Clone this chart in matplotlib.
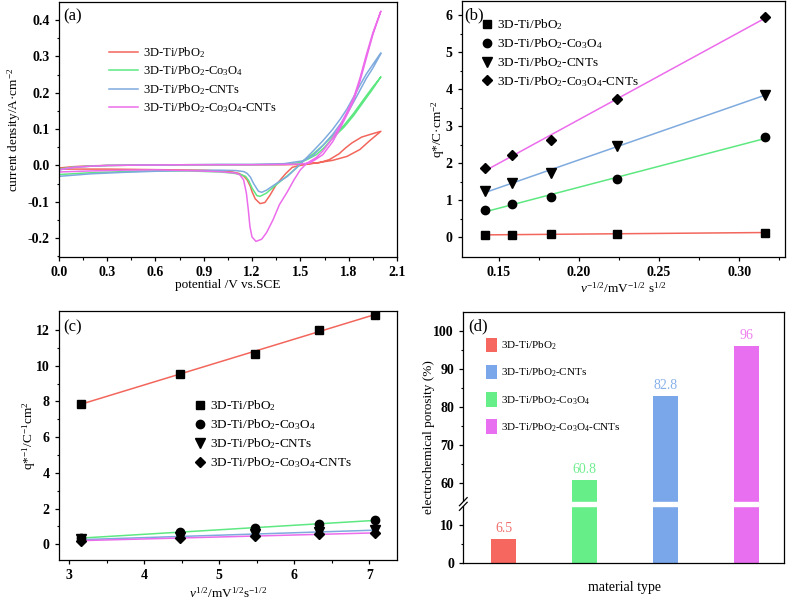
import numpy as np
import matplotlib
matplotlib.use("Agg")
import matplotlib.pyplot as plt
from matplotlib.patches import Patch, Rectangle

plt.rcParams['font.family'] = ['Liberation Serif', 'DejaVu Serif']
plt.rcParams['mathtext.fontset'] = 'custom'
plt.rcParams['mathtext.rm'] = 'Liberation Serif'
plt.rcParams['mathtext.it'] = 'Liberation Serif:italic'
plt.rcParams['mathtext.bf'] = 'Liberation Serif:bold'

# ---------------- data ----------------
labels = ['3D-Ti/PbO$_2$', '3D-Ti/PbO$_2$-Co$_3$O$_4$', '3D-Ti/PbO$_2$-CNTs',
          '3D-Ti/PbO$_2$-Co$_3$O$_4$-CNTs']
colors = ['#f2665c', '#5ee882', '#7eaade', '#ec6cec']

# (a) cyclic voltammograms: anodic sweep then cathodic sweep
red_V_an = [0.00, 0.05, 0.10, 0.20, 0.30, 0.50, 0.80, 1.00, 1.20, 1.40, 1.50, 1.60, 1.70, 1.79, 1.87, 1.93, 2.00]
red_I_an = [-0.007, -0.005, -0.003, -0.001, 0.000, 0.001, 0.002, 0.002, 0.002, 0.002, 0.003, 0.007, 0.014, 0.025, 0.044, 0.068, 0.094]
red_V_ca = [2.00, 1.93, 1.88, 1.82, 1.78, 1.74, 1.68, 1.62, 1.55, 1.50, 1.45, 1.41, 1.35, 1.31, 1.28, 1.25, 1.22, 1.20, 1.19, 1.17, 1.15, 1.12, 1.08, 1.00, 0.90, 0.70, 0.50, 0.30, 0.10, 0.00]
red_I_ca = [0.094, 0.085, 0.078, 0.062, 0.048, 0.032, 0.016, 0.008, 0.004, 0.000, -0.005, -0.022, -0.053, -0.083, -0.102, -0.105, -0.092, -0.072, -0.058, -0.040, -0.030, -0.022, -0.018, -0.015, -0.013, -0.012, -0.011, -0.010, -0.010, -0.010]

green_V_an = [0.00, 0.05, 0.10, 0.20, 0.30, 0.50, 0.80, 1.00, 1.20, 1.40, 1.50, 1.55, 1.60, 1.65, 1.70, 1.77, 1.83, 1.89, 1.95, 2.00]
green_I_an = [-0.010, -0.007, -0.004, -0.002, 0.000, 0.001, 0.002, 0.002, 0.002, 0.003, 0.008, 0.018, 0.030, 0.050, 0.075, 0.105, 0.137, 0.174, 0.211, 0.244]
green_V_ca = [2.00, 1.95, 1.89, 1.83, 1.77, 1.70, 1.64, 1.58, 1.52, 1.48, 1.42, 1.35, 1.29, 1.25, 1.23, 1.20, 1.18, 1.16, 1.13, 1.08, 1.00, 0.80, 0.60, 0.40, 0.20, 0.00]
green_I_ca = [0.244, 0.216, 0.180, 0.143, 0.110, 0.082, 0.055, 0.032, 0.014, -0.005, -0.028, -0.053, -0.076, -0.085, -0.083, -0.062, -0.042, -0.030, -0.025, -0.021, -0.018, -0.015, -0.015, -0.017, -0.020, -0.025]

blue_V_an = [0.00, 0.05, 0.10, 0.20, 0.30, 0.50, 0.80, 1.00, 1.20, 1.40, 1.46, 1.52, 1.58, 1.64, 1.70, 1.75, 1.79, 1.83, 1.87, 1.91, 1.95, 2.00]
blue_I_an = [-0.013, -0.008, -0.005, -0.002, 0.000, 0.001, 0.002, 0.003, 0.003, 0.005, 0.009, 0.013, 0.028, 0.055, 0.085, 0.115, 0.142, 0.174, 0.207, 0.240, 0.268, 0.308]
blue_V_ca = [2.00, 1.95, 1.91, 1.87, 1.83, 1.79, 1.75, 1.70, 1.64, 1.58, 1.54, 1.50, 1.48, 1.42, 1.35, 1.29, 1.26, 1.24, 1.21, 1.19, 1.17, 1.15, 1.10, 1.00, 0.80, 0.60, 0.40, 0.20, 0.00]
blue_I_ca = [0.310, 0.278, 0.252, 0.221, 0.188, 0.156, 0.129, 0.099, 0.068, 0.040, 0.022, 0.004, -0.005, -0.030, -0.050, -0.068, -0.074, -0.071, -0.050, -0.032, -0.022, -0.017, -0.014, -0.013, -0.014, -0.016, -0.019, -0.023, -0.030]

mag_V_an = [0.00, 0.05, 0.10, 0.20, 0.30, 0.50, 0.80, 1.00, 1.20, 1.40, 1.50, 1.56, 1.60, 1.64, 1.70, 1.75, 1.79, 1.83, 1.87, 1.91, 1.95, 2.00]
mag_I_an = [-0.012, -0.008, -0.005, -0.002, 0.000, 0.001, 0.002, 0.002, 0.002, 0.003, 0.004, 0.007, 0.018, 0.030, 0.065, 0.105, 0.140, 0.178, 0.232, 0.296, 0.360, 0.425]
mag_V_ca = [2.00, 1.95, 1.91, 1.87, 1.83, 1.79, 1.75, 1.70, 1.64, 1.60, 1.54, 1.50, 1.46, 1.42, 1.37, 1.33, 1.29, 1.26, 1.225, 1.20, 1.187, 1.177, 1.165, 1.148, 1.125, 1.10, 1.00, 0.80, 0.60, 0.40, 0.20, 0.00]
mag_I_ca = [0.425, 0.365, 0.305, 0.240, 0.185, 0.148, 0.112, 0.075, 0.040, 0.022, 0.006, -0.012, -0.040, -0.072, -0.108, -0.150, -0.185, -0.203, -0.209, -0.197, -0.168, -0.122, -0.076, -0.040, -0.026, -0.021, -0.017, -0.014, -0.012, -0.013, -0.015, -0.018]

# (b) q* vs v^-1/2
xb = [0.1414, 0.1581, 0.1826, 0.2236, 0.3162]
qb_pbo2 = [0.07, 0.07, 0.08, 0.10, 0.13]
qb_co = [0.73, 0.90, 1.10, 1.58, 2.70]
qb_cnt = [1.25, 1.48, 1.73, 2.47, 3.85]
qb_cocnt = [1.87, 2.22, 2.63, 3.73, 5.95]

# (c) 1/q* vs v^1/2
xc = [3.162, 4.472, 5.477, 6.325, 7.071]
qc_pbo2 = [7.87, 9.55, 10.67, 12.00, 12.85]
qc_co = [0.37, 0.66, 0.92, 1.12, 1.37]
qc_cnt = [0.27, 0.42, 0.58, 0.68, 0.80]
qc_cocnt = [0.20, 0.36, 0.46, 0.55, 0.64]

# (d) electrochemical porosity
por_values = [6.5, 60.8, 82.8, 96]
por_labels = ['6.5', '60.8', '82.8', '96']

# ---------------- figure ----------------
fig = plt.figure(figsize=(7.91, 6.04), dpi=100)
W, H = 791.0, 604.0
def axes_px(l, t, r, b):
    return fig.add_axes([l / W, (H - b) / H, (r - l) / W, (b - t) / H])

TICKFS = 10
def style(ax):
    for s in ax.spines.values():
        s.set_linewidth(0.9)
    ax.tick_params(which='both', direction='out', top=False, right=False)
    ax.tick_params(which='major', length=3.2, width=0.9, labelsize=TICKFS)
    ax.tick_params(which='minor', length=1.8, width=0.8)
    for lab in ax.get_xticklabels() + ax.get_yticklabels():
        lab.set_fontweight('bold')

# ---- (a)
axa = axes_px(58.7, 2, 397, 257)
cv = [(red_V_an + red_V_ca, red_I_an + red_I_ca),
      (green_V_an + green_V_ca, green_I_an + green_I_ca),
      (blue_V_an + blue_V_ca, blue_I_an + blue_I_ca),
      (mag_V_an + mag_V_ca, mag_I_an + mag_I_ca)]
for (V, I), c, lab in zip(cv, colors, labels):
    axa.plot(V, I, color=c, lw=1.1, label=lab)
axa.set_xlim(0, 2.1)
axa.set_ylim(-0.252, 0.45)
axa.set_xticks(np.arange(0, 2.11, 0.3))
axa.set_xticks(np.arange(0.15, 2.1, 0.3), minor=True)
axa.set_xticklabels(['0.0', '0.3', '0.6', '0.9', '1.2', '1.5', '1.8', '2.1'])
axa.set_yticks([-0.2, -0.1, 0.0, 0.1, 0.2, 0.3, 0.4])
axa.set_yticks(np.arange(-0.25, 0.45, 0.1), minor=True)
axa.set_yticklabels(['-0.2', '-0.1', '0.0', '0.1', '0.2', '0.3', '0.4'])
style(axa)
axa.set_xlabel('potential /V vs.SCE', fontsize=9.5)
axa.xaxis.set_label_coords(0.5, -0.088)
axa.set_ylabel('current density/A·cm$^{-2}$', fontsize=9.5)
axa.yaxis.set_label_coords(-0.105, 0.5)
axa.text(0.013, 0.945, '(a)', transform=axa.transAxes, fontsize=12, va='center', ha='left')
axa.legend(loc='upper left', bbox_to_anchor=(0.15, 0.83), frameon=False, fontsize=9,
           handlelength=2.3, handletextpad=0.4, labelspacing=0.28, borderpad=0, borderaxespad=0)

# ---- (b)
axb = axes_px(461.7, 1, 785, 257)
markers = ['s', 'o', 'v', 'D']
msizes = [5.5, 6, 7, 5]
for ys, c, m, ms, lab in zip([qb_pbo2, qb_co, qb_cnt, qb_cocnt], colors, markers, msizes, labels):
    k, b0 = np.polyfit(xb, ys, 1)
    axb.plot([xb[0], xb[-1]], [k * xb[0] + b0, k * xb[-1] + b0], color=c, lw=1.1, zorder=2)
    axb.plot(xb, ys, ls='none', marker=m, ms=ms, color='black', zorder=3, label=lab)
axb.set_xlim(0.127, 0.3285)
axb.set_ylim(-0.53, 6.38)
axb.set_xticks([0.15, 0.20, 0.25, 0.30])
axb.set_xticklabels(['0.15', '0.20', '0.25', '0.30'])
axb.set_xticks([0.175, 0.225, 0.275, 0.325], minor=True)
axb.set_yticks(range(0, 7))
axb.set_yticks(np.arange(0.5, 6.4, 1.0), minor=True)
style(axb)
axb.set_xlabel('$v^{-1/2}$/mV$^{-1/2}$ s$^{1/2}$', fontsize=9.5)
axb.xaxis.set_label_coords(0.5, -0.092)
axb.set_ylabel('q*/C·cm$^{-2}$', fontsize=9.5)
axb.yaxis.set_label_coords(-0.047, 0.5)
axb.text(0.008, 0.945, '(b)', transform=axb.transAxes, fontsize=12, va='center', ha='left')
axb.legend(loc='upper left', bbox_to_anchor=(0.06, 0.935), frameon=False, fontsize=9.5,
           handlelength=0.9, handletextpad=0.3, labelspacing=0.3, borderpad=0, borderaxespad=0)

# ---- (c)
axc = axes_px(58.7, 311, 397, 560)
for ys, c, m, ms, lab in zip([qc_pbo2, qc_co, qc_cnt, qc_cocnt], colors, markers, msizes, labels):
    k, b0 = np.polyfit(xc, ys, 1)
    axc.plot([xc[0], xc[-1]], [k * xc[0] + b0, k * xc[-1] + b0], color=c, lw=1.1, zorder=2)
    axc.plot(xc, ys, ls='none', marker=m, ms=ms, color='black', zorder=3, label=lab)
axc.set_xlim(2.86, 7.37)
axc.set_ylim(-0.88, 13.06)
axc.set_xticks(range(3, 8))
axc.set_xticks(np.arange(3.5, 7.4, 1.0), minor=True)
axc.set_yticks(range(0, 13, 2))
axc.set_yticks(range(1, 13, 2), minor=True)
style(axc)
axc.set_xlabel('$v^{1/2}$/mV$^{1/2}$s$^{-1/2}$', fontsize=9.5)
axc.xaxis.set_label_coords(0.5, -0.105)
axc.set_ylabel('q*$^{-1}$/C$^{-1}$cm$^{2}$', fontsize=9.5)
axc.yaxis.set_label_coords(-0.06, 0.5)
axc.text(0.013, 0.935, '(c)', transform=axc.transAxes, fontsize=12, va='center', ha='left')
axc.legend(loc='upper left', bbox_to_anchor=(0.40, 0.65), frameon=False, fontsize=9.5,
           handlelength=0.9, handletextpad=0.3, labelspacing=0.33, borderpad=0, borderaxespad=0)

# ---- (d) broken axis
A_, B_, G_ = 15.0, 55.0, 1.23
def fwd(y):
    y = np.asarray(y, float)
    return np.where(y <= A_, y, np.where(y >= B_, y - (B_ - A_) + G_, A_ + (y - A_) * G_ / (B_ - A_)))
def inv(t):
    t = np.asarray(t, float)
    return np.where(t <= A_, t, np.where(t >= A_ + G_, t + (B_ - A_) - G_, A_ + (t - A_) * (B_ - A_) / G_))

axd = axes_px(463.3, 311.7, 784, 563.3)
axd.set_yscale('function', functions=(fwd, inv))
xpos = np.arange(len(por_values))
bar_cols = ['#f5675f', '#66ee88', '#7aa6ea', '#e870f0']
txt_cols = ['#f07070', '#70ee90', '#88b0e8', '#ee80ee']
axd.bar(xpos, por_values, width=0.31, color=bar_cols, zorder=1)
axd.axhspan(A_, B_, color='white', zorder=1.5)
for x, v, t, c in zip(xpos, por_values, por_labels, txt_cols):
    axd.text(x, v + 1.0, t, ha='center', va='bottom', fontsize=10, color=c)
axd.set_xlim(-0.5, 3.47)
axd.set_ylim(0, 105)
axd.set_yticks([0, 10, 60, 70, 80, 90, 100])
axd.set_yticks([5, 65, 75, 85, 95], minor=True)
axd.set_xticks([])
style(axd)
# break marks on the left spine
tot = float(fwd(105))
f1 = A_ / tot
f2 = (A_ + G_) / tot
axd.add_patch(Rectangle((-0.02, f1), 0.04, f2 - f1, transform=axd.transAxes,
                        facecolor='white', edgecolor='none', zorder=3, clip_on=False))
for f in (f1, f2):
    axd.plot([-0.012, 0.012], [f - 0.016, f + 0.016], transform=axd.transAxes,
             color='black', lw=0.9, zorder=4, clip_on=False)
axd.set_xlabel('material type', fontsize=10)
axd.xaxis.set_label_coords(0.504, -0.07)
axd.set_ylabel('electrochemical porosity (%)', fontsize=9.5)
axd.yaxis.set_label_coords(-0.088, 0.5)
axd.text(0.014, 0.94, '(d)', transform=axd.transAxes, fontsize=12, va='center', ha='left')
order = [0, 2, 1, 3]
handles = [Patch(facecolor=bar_cols[i], edgecolor='none') for i in order]
axd.legend(handles, [labels[i] for i in order], loc='upper left', bbox_to_anchor=(0.07, 0.895),
           frameon=False, fontsize=8, handlelength=1.0, handleheight=1.6,
           handletextpad=0.4, labelspacing=1.15, borderpad=0, borderaxespad=0)

fig.savefig('out.png', dpi=100)
